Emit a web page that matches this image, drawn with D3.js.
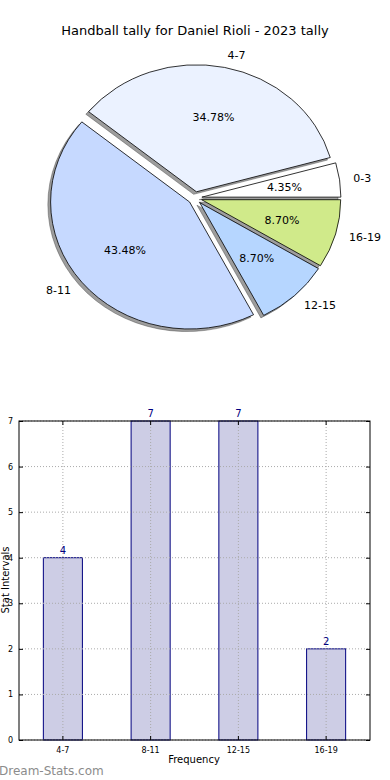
<!DOCTYPE html>
<html>
<head>
<meta charset="utf-8">
<script src="https://cdn.jsdelivr.net/npm/d3@7"></script>
<style>
body{margin:0;background:#fff;}
svg{display:block;font-family:"DejaVu Sans",sans-serif;}
</style>
</head>
<body>
<div id="chart"></div>
<script>
// data
const pieLabels=["0-3","4-7","8-11","12-15","16-19"];
const pieValues=[1,8,10,2,2];
const pieColors=["#ffffff","#ebf2ff","#c6d9ff","#b6d6ff","#d0ea8a"];

const barLabels=["4-7","8-11","12-15","16-19"];
const barValues=[4,7,7,2];
const yTicks=[0,1,2,3,4,5,6,7];

const width=390,height=780;

const svg=d3.select("#chart")
.append("svg")
.attr("width",width)
.attr("height",height);

// title
svg.append("text")
.attr("x",195)
.attr("y",35)
.attr("text-anchor","middle")
.style("font-size","13px")
.text("Handball tally for Daniel Rioli - 2023 tally");

// PIE
const cx=195,cy=198,R=139,ky=127/139,explode=0.05*R;
const total=d3.sum(pieValues);

const pie=d3.pie()
.sort(null)
.startAngle(Math.PI/2)
.endAngle(Math.PI/2-2*Math.PI);

const arcs=pie(pieValues);
const arc=d3.arc().innerRadius(0).outerRadius(R);

// offset for each slice, in unscaled units
function dir(d){
const m=(d.startAngle+d.endAngle)/2;
return [Math.sin(m),-Math.cos(m)];
}

const pg=svg.append("g")
.attr("transform",`translate(${cx},${cy}) scale(1,${ky})`);

// shadows first
pg.selectAll(".sombra")
.data(arcs)
.enter()
.append("path")
.attr("transform",d=>{
const v=dir(d);
return `translate(${v[0]*explode-0.02*R},${v[1]*explode+0.02*R})`;
})
.attr("d",arc)
.attr("fill","#4d4d4d")
.attr("fill-opacity",0.55)
.attr("stroke","#333")
.attr("stroke-opacity",0.5)
.attr("stroke-width",0.8);

pg.selectAll(".cuna")
.data(arcs)
.enter()
.append("path")
.attr("transform",d=>{
const v=dir(d);
return `translate(${v[0]*explode},${v[1]*explode})`;
})
.attr("d",arc)
.attr("fill",(d,i)=>pieColors[i])
.attr("stroke","#000")
.attr("stroke-width",0.8)
.attr("vector-effect","non-scaling-stroke");

// labels outside
svg.selectAll(".etiqueta")
.data(arcs)
.enter()
.append("text")
.attr("x",d=>{const v=dir(d);return cx+v[0]*(explode+1.1*R);})
.attr("y",d=>{const v=dir(d);return cy+v[1]*(explode+1.1*R)*ky;})
.attr("dy","0.35em")
.attr("text-anchor",d=>dir(d)[0]>0?"start":"end")
.style("font-size","11px")
.text((d,i)=>pieLabels[i]);

// percents
svg.selectAll(".pct")
.data(arcs)
.enter()
.append("text")
.attr("x",d=>{const v=dir(d);return cx+v[0]*(explode+0.6*R);})
.attr("y",d=>{const v=dir(d);return cy+v[1]*(explode+0.6*R)*ky;})
.attr("dy","0.35em")
.attr("text-anchor","middle")
.style("font-size","11px")
.text(d=>(d.value/total*100).toFixed(2)+"%");

// BARS
const bLeft=19,bRight=370,bTop=421,bBottom=740;

const x=d3.scaleBand()
.domain(barLabels)
.range([bLeft,bRight])
.paddingInner(0.555)
.paddingOuter(0.2775);

const y=d3.scaleLinear()
.domain([0,7])
.range([bBottom,bTop]);

// bars
svg.selectAll(".barra")
.data(barValues)
.enter()
.append("rect")
.attr("x",(d,i)=>x(barLabels[i]))
.attr("y",d=>y(d))
.attr("width",x.bandwidth())
.attr("height",d=>y(0)-y(d))
.attr("fill","#cdcde5")
.attr("stroke","#00007f")
.attr("stroke-width",1);

// grid on top
svg.append("g")
.selectAll("line")
.data(yTicks)
.enter()
.append("line")
.attr("x1",bLeft)
.attr("x2",bRight)
.attr("y1",d=>y(d))
.attr("y2",d=>y(d))
.attr("stroke","#aaa")
.attr("stroke-dasharray","1,2");

svg.append("g")
.selectAll("line")
.data(barLabels)
.enter()
.append("line")
.attr("x1",d=>x(d)+x.bandwidth()/2)
.attr("x2",d=>x(d)+x.bandwidth()/2)
.attr("y1",bTop)
.attr("y2",bBottom)
.attr("stroke","#aaa")
.attr("stroke-dasharray","1,2");

// axes
svg.append("g")
.attr("transform",`translate(${bLeft},0)`)
.call(d3.axisLeft(y).tickValues(yTicks).tickFormat(d3.format("d")).tickSizeInner(-4).tickSizeOuter(0).tickPadding(6))
.call(g=>g.select(".domain").remove())
.call(g=>g.selectAll("text").style("font-size","8px").style("font-family","DejaVu Sans"));

svg.append("g")
.attr("transform",`translate(${bRight},0)`)
.call(d3.axisRight(y).tickValues(yTicks).tickSizeInner(-4).tickSizeOuter(0).tickFormat(""))
.call(g=>g.select(".domain").remove());

svg.append("g")
.attr("transform",`translate(0,${bBottom})`)
.call(d3.axisBottom(x).tickSizeInner(-4).tickSizeOuter(0).tickPadding(7))
.call(g=>g.select(".domain").remove())
.call(g=>g.selectAll("text").style("font-size","8px").style("font-family","DejaVu Sans"));

svg.append("g")
.attr("transform",`translate(0,${bTop})`)
.call(d3.axisTop(x).tickSizeInner(-4).tickSizeOuter(0).tickFormat(""))
.call(g=>g.select(".domain").remove());

// frame
svg.append("rect")
.attr("x",bLeft)
.attr("y",bTop)
.attr("width",bRight-bLeft)
.attr("height",bBottom-bTop)
.attr("fill","none")
.attr("stroke","#000")
.attr("stroke-width",1);

// value labels
svg.selectAll(".valor")
.data(barValues)
.enter()
.append("text")
.attr("x",(d,i)=>x(barLabels[i])+x.bandwidth()/2)
.attr("y",d=>y(d)-4)
.attr("text-anchor","middle")
.attr("fill","#00007f")
.style("font-size","10px")
.text(d=>d);

// axis titles
svg.append("text")
.attr("x",194)
.attr("y",763)
.attr("text-anchor","middle")
.style("font-size","10px")
.text("Frequency");

svg.append("text")
.attr("transform","rotate(-90)")
.attr("x",-580)
.attr("y",9)
.attr("text-anchor","middle")
.style("font-size","10px")
.text("Stat Intervals");

// watermark
svg.append("text")
.attr("x",-1)
.attr("y",775)
.attr("fill","#8c8c8c")
.style("font-size","12px")
.text("Dream-Stats.com");
</script>
</body>
</html>
